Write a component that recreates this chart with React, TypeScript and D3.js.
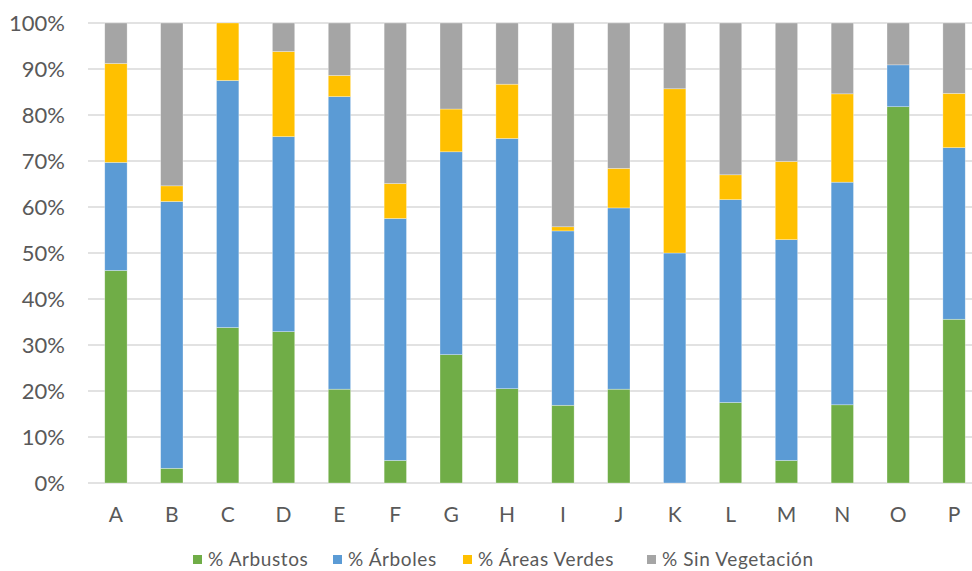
import React from 'react';
import * as d3 from 'd3';

const categories = ['A', 'B', 'C', 'D', 'E', 'F', 'G', 'H', 'I', 'J', 'K', 'L', 'M', 'N', 'O', 'P'];
const arbustos = [46.2, 3.2, 33.8, 32.9, 20.4, 4.9, 27.9, 20.5, 16.9, 20.4, 0, 17.5, 4.9, 17.0, 81.8, 35.6];
const arboles = [23.5, 58.0, 53.7, 42.4, 63.6, 52.6, 44.1, 54.4, 37.9, 39.4, 50.0, 44.1, 48.0, 48.4, 9.1, 37.3];
const areasVerdes = [21.5, 3.4, 12.5, 18.5, 4.6, 7.6, 9.3, 11.8, 0.9, 8.6, 35.7, 5.4, 17.0, 19.2, 0, 11.8];
const sinVegetacion = [8.8, 35.4, 0, 6.2, 11.4, 34.9, 18.7, 13.3, 44.3, 31.6, 14.3, 33.0, 30.1, 15.4, 9.1, 15.3];
const seriesNames = ['% Arbustos', '% Árboles', '% Áreas Verdes', '% Sin Vegetación'];
const colors = ['#70AD47', '#5B9BD5', '#FFC000', '#A5A5A5'];
const yTicks = [0, 0.1, 0.2, 0.3, 0.4, 0.5, 0.6, 0.7, 0.8, 0.9, 1];

const width = 972;
const height = 571;
const margin = { top: 23, right: -10, bottom: 88, left: 88 };
const font = 'Lato, "Open Sans", sans-serif';

type Row = { cat: string; [k: string]: number | string };

export default function App() {
  const rows: Row[] = categories.map((c, i) => {
    const vals = [arbustos[i], arboles[i], areasVerdes[i], sinVegetacion[i]];
    const total = d3.sum(vals);
    const r: Row = { cat: c };
    seriesNames.forEach((s, j) => (r[s] = vals[j] / total));
    return r;
  });

  const stack = d3.stack<Row>().keys(seriesNames).value((d, k) => d[k] as number);
  const layers = stack(rows);

  const x = d3
    .scaleBand()
    .domain(categories)
    .range([margin.left, width - margin.right])
    .paddingInner(0.6)
    .paddingOuter(0.3);
  const y = d3.scaleLinear().domain([0, 1]).range([height - margin.bottom, margin.top]);
  const fmt = d3.format('.0%');

  // legend layout
  const legendX = [193, 333, 463, 647];

  return (
    <svg width={width} height={height} style={{ position: 'absolute', left: 0, top: 0, background: '#fff' }}>
      {yTicks.map(t => (
        <g key={t}>
          <line x1={margin.left} x2={width} y1={y(t)} y2={y(t)} stroke="#d9d9d9" strokeWidth={1.5} />
          <text x={65} y={y(t)} dy="0.35em" textAnchor="end" fontFamily={font} fontSize={22} fill="#595959">
            {fmt(t)}
          </text>
        </g>
      ))}
      {layers.map((layer, i) => (
        <g key={layer.key} fill={colors[i]}>
          {layer.map(d => (
            <rect
              key={d.data.cat as string}
              x={x(d.data.cat as string)}
              y={y(d[1])}
              width={x.bandwidth()}
              height={Math.max(0, y(d[0]) - y(d[1]))}
              stroke="#ffffff"
              strokeOpacity={0.5}
              strokeWidth={0.6}
            />
          ))}
        </g>
      ))}
      {categories.map(c => (
        <text key={c} x={(x(c) ?? 0) + x.bandwidth() / 2} y={522} textAnchor="middle" fontFamily={font} fontSize={21} fill="#595959">
          {c}
        </text>
      ))}
      {seriesNames.map((s, i) => (
        <g key={s} transform={`translate(${legendX[i]},559)`}>
          <rect x={0} y={-4} width={9} height={9} fill={colors[i]} />
          <text x={15} y={0} dy="0.35em" fontFamily={font} fontSize={19} letterSpacing={0.6} fill="#595959">
            {s}
          </text>
        </g>
      ))}
    </svg>
  );
}
